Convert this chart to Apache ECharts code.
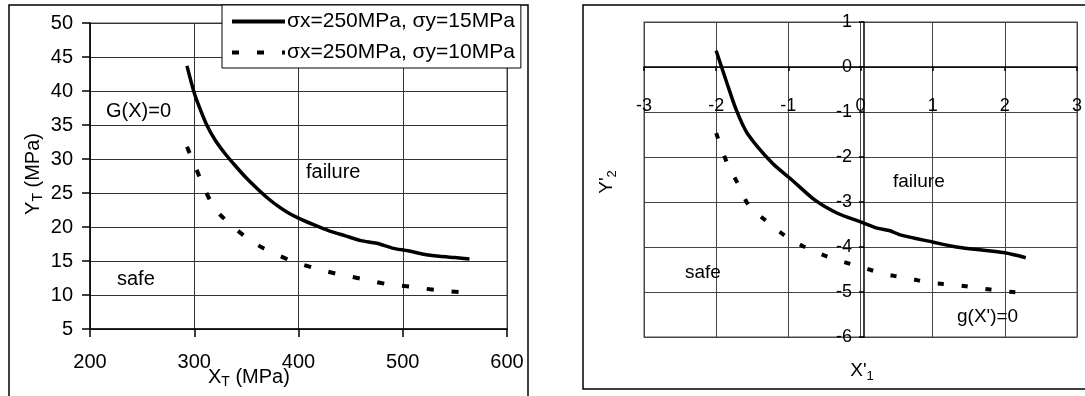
<!DOCTYPE html>
<html><head><meta charset="utf-8">
<script src="https://cdn.jsdelivr.net/npm/echarts@6/dist/echarts.min.js"></script>
<style>html,body{margin:0;padding:0;background:#fff}#c{width:1085px;height:396px}</style>
</head><body><div id="c"></div>
<script>
// ---- data (left chart) ----
const leftXTicks = [200, 300, 400, 500, 600];
const leftYTicks = [5, 10, 15, 20, 25, 30, 35, 40, 45, 50];
const solidL_X = [293, 300, 305, 312, 320, 330, 340, 350, 360, 370, 380, 390, 400, 415, 430, 445, 460, 475, 490, 505, 520, 535, 550, 564];
const solidL_Y = [43.7, 39.7, 37.6, 35.0, 32.8, 30.7, 28.9, 27.2, 25.7, 24.3, 23.1, 22.1, 21.3, 20.3, 19.4, 18.7, 18.0, 17.6, 16.9, 16.5, 16.0, 15.7, 15.5, 15.3];
const dashL_X = [293, 305, 315, 325, 347, 366, 392, 414, 437, 460, 485, 509, 533, 557];
const dashL_Y = [31.8, 27.4, 24.0, 21.8, 18.8, 16.9, 15.1, 14.0, 13.1, 12.4, 11.6, 11.2, 10.7, 10.4];
const seriesNames = ['σx=250MPa, σy=15MPa', 'σx=250MPa, σy=10MPa'];
// ---- data (right chart) ----
const rightXTicks = [-3, -2, -1, 0, 1, 2, 3];
const rightYTicks = [-6, -5, -4, -3, -2, -1, 0, 1];
const solidR_X = [-2.0, -1.85, -1.72, -1.57, -1.22, -0.95, -0.63, -0.32, 0, 0.23, 0.41, 0.55, 1.0, 1.33, 2.0, 2.29];
const solidR_Y = [0.36, -0.36, -0.96, -1.47, -2.14, -2.51, -2.96, -3.25, -3.44, -3.58, -3.64, -3.73, -3.89, -4.0, -4.13, -4.24];
const dashR_X = [-2.0, -1.85, -1.69, -1.55, -1.27, -1.0, -0.68, -0.36, 0, 0.33, 0.64, 0.99, 1.3, 1.63, 1.97, 2.27];
const dashR_Y = [-1.47, -2.13, -2.62, -3.07, -3.47, -3.8, -4.07, -4.27, -4.44, -4.6, -4.69, -4.8, -4.84, -4.91, -4.98, -5.02];

const pairs = (xs, ys) => xs.map((x, i) => [x, ys[i]]);
const FONT = '"Liberation Sans", Arial, sans-serif';

// right grid geometry (style) and zero-crossing offsets derived from axis ranges
const RG = {left: 644, top: 22, width: 440, height: 315};
const rxMin = rightXTicks[0], rxMax = rightXTicks[rightXTicks.length - 1];
const ryMin = rightYTicks[0], ryMax = rightYTicks[rightYTicks.length - 1];
const xAxisOffset = -RG.height * (0 - ryMin) / (ryMax - ryMin);
const yAxisOffset = -RG.width * (0 - rxMin) / (rxMax - rxMin);

const chart = echarts.init(document.getElementById('c'), null, {renderer: 'canvas'});
const txt = (x, y, s, size, extra) => Object.assign({
  type: 'text', x: x, y: y, z: 50,
  style: {text: s, fontFamily: FONT, fontSize: size, fill: '#000', align: 'left', verticalAlign: 'middle'}
}, extra || {});

chart.setOption({
  animation: false,
  backgroundColor: '#fff',
  grid: [
    {left: 90, top: 23, width: 417, height: 306, show: true, borderColor: '#888', borderWidth: 1.5, containLabel: false},
    Object.assign({show: true, borderColor: '#888', borderWidth: 1.5, containLabel: false}, RG)
  ],
  legend: {
    data: seriesNames,
    left: 222, top: 5, orient: 'vertical',
    backgroundColor: '#fff', borderColor: '#000', borderWidth: 1,
    padding: [6, 6, 5, 8], itemGap: 10, itemWidth: 53, itemHeight: 20,
    itemStyle: {opacity: 0},
    lineStyle: {width: 4},
    textStyle: {fontFamily: FONT, fontSize: 21, color: '#000', padding: [0, 0, 0, -3]},
    z: 20
  },
  xAxis: [
    {type: 'value', gridIndex: 0, min: leftXTicks[0], max: leftXTicks[leftXTicks.length - 1], interval: 100,
     axisLine: {show: true, onZero: false, lineStyle: {color: '#000', width: 1.5}},
     axisTick: {show: true, length: 8, lineStyle: {color: '#000', width: 1.5}},
     axisLabel: {fontFamily: FONT, fontSize: 20, color: '#000', margin: 23},
     splitLine: {show: true, lineStyle: {color: '#333', width: 1}}},
    {type: 'value', gridIndex: 1, min: rxMin, max: rxMax, interval: 1, offset: xAxisOffset,
     axisLine: {show: true, onZero: false, lineStyle: {color: '#000', width: 1.5}},
     axisTick: {show: true, length: 4, lineStyle: {color: '#000', width: 1.5}},
     axisLabel: {fontFamily: FONT, fontSize: 18, color: '#000', margin: 30},
     splitLine: {show: true, lineStyle: {color: '#444', width: 1}}}
  ],
  yAxis: [
    {type: 'value', gridIndex: 0, min: leftYTicks[0], max: leftYTicks[leftYTicks.length - 1], interval: 5,
     axisLine: {show: true, onZero: false, lineStyle: {color: '#000', width: 1.5}},
     axisTick: {show: true, length: 8, lineStyle: {color: '#000', width: 1.5}},
     axisLabel: {fontFamily: FONT, fontSize: 20, color: '#000', margin: 17},
     splitLine: {show: true, lineStyle: {color: '#333', width: 1}}},
    {type: 'value', gridIndex: 1, min: ryMin, max: ryMax, interval: 1, offset: yAxisOffset,
     axisLine: {show: true, onZero: false, lineStyle: {color: '#000', width: 1.5}},
     axisTick: {show: true, length: 5, lineStyle: {color: '#000', width: 1.5}},
     axisLabel: {fontFamily: FONT, fontSize: 18, color: '#000', margin: 12},
     splitLine: {show: true, lineStyle: {color: '#444', width: 1}}}
  ],
  series: [
    {name: seriesNames[0], type: 'line', xAxisIndex: 0, yAxisIndex: 0, data: pairs(solidL_X, solidL_Y),
     smooth: 0.25, showSymbol: false, symbol: 'none', lineStyle: {color: '#000', width: 3.5, type: 'solid'}, itemStyle: {color: '#000'}, z: 5},
    {name: seriesNames[1], type: 'line', xAxisIndex: 0, yAxisIndex: 0, data: pairs(dashL_X, dashL_Y),
     smooth: 0.25, showSymbol: false, symbol: 'none', lineStyle: {color: '#000', width: 4, type: [7, 18]}, itemStyle: {color: '#000'}, z: 5},
    {name: 'right-solid', type: 'line', xAxisIndex: 1, yAxisIndex: 1, data: pairs(solidR_X, solidR_Y),
     smooth: 0.25, showSymbol: false, symbol: 'none', lineStyle: {color: '#000', width: 3.5, type: 'solid'}, z: 5},
    {name: 'right-dash', type: 'line', xAxisIndex: 1, yAxisIndex: 1, data: pairs(dashR_X, dashR_Y),
     smooth: 0.25, showSymbol: false, symbol: 'none', lineStyle: {color: '#000', width: 4, type: [6, 18]}, z: 5}
  ],
  graphic: [
    {type: 'rect', shape: {x: 9, y: 5, width: 519, height: 420}, style: {fill: 'none', stroke: '#000', lineWidth: 1.5}, z: 0, silent: true},
    {type: 'rect', shape: {x: 583, y: 5, width: 540, height: 384}, style: {fill: 'none', stroke: '#000', lineWidth: 1.5}, z: 0, silent: true},
    // left chart texts
    txt(106, 111, 'G(X)=0', 20),
    txt(306, 172, 'failure', 20),
    txt(117, 279, 'safe', 20),
    {type: 'text', x: 208, y: 377, z: 50,
     style: {text: '{a|X}{s|T}{a| (MPa)}', fontFamily: FONT, verticalAlign: 'middle',
       rich: {a: {fontFamily: FONT, fontSize: 20, fill: '#000'}, s: {fontFamily: FONT, fontSize: 14, fill: '#000', padding: [10, 0, 0, 0]}}}},
    {type: 'text', x: 33, y: 174, rotation: Math.PI / 2, z: 50,
     style: {text: '{a|Y}{s|T}{a| (MPa)}', fontFamily: FONT, align: 'center', verticalAlign: 'middle',
       rich: {a: {fontFamily: FONT, fontSize: 20, fill: '#000'}, s: {fontFamily: FONT, fontSize: 14, fill: '#000', padding: [10, 0, 0, 0]}}}},
    // right chart texts
    txt(893, 182, 'failure', 19),
    txt(685, 273, 'safe', 19),
    txt(957, 317, "g(X')=0", 19),
    {type: 'text', x: 862, y: 371, z: 50,
     style: {text: "{a|X'}{s|1}", fontFamily: FONT, align: 'center', verticalAlign: 'middle',
       rich: {a: {fontFamily: FONT, fontSize: 19, fill: '#000'}, s: {fontFamily: FONT, fontSize: 13, fill: '#000', padding: [10, 0, 0, 0]}}}},
    {type: 'text', x: 607, y: 182, rotation: Math.PI / 2, z: 50,
     style: {text: "{a|Y'}{s|2}", fontFamily: FONT, align: 'center', verticalAlign: 'middle',
       rich: {a: {fontFamily: FONT, fontSize: 19, fill: '#000'}, s: {fontFamily: FONT, fontSize: 13, fill: '#000', padding: [10, 0, 0, 0]}}}}
  ]
});
</script>
</body></html>
